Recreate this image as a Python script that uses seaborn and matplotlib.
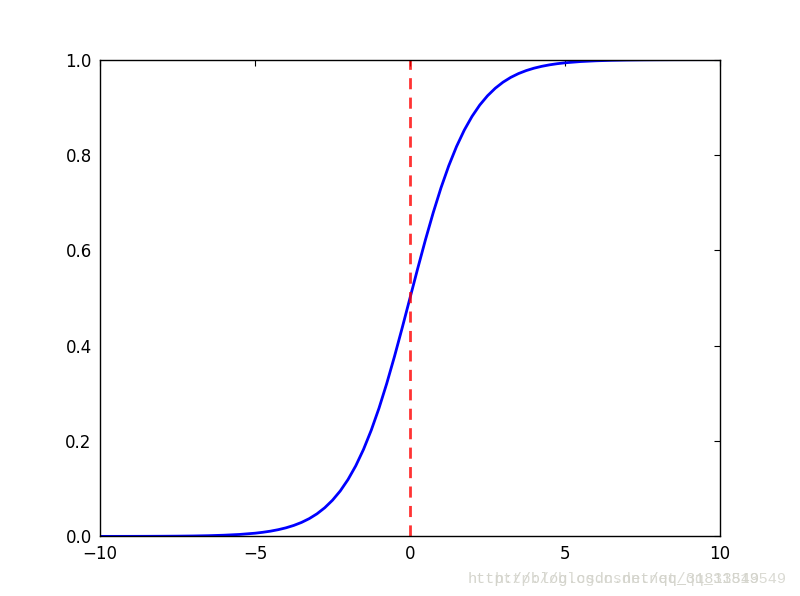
import numpy as np
import pandas as pd
import matplotlib
matplotlib.use("Agg")
import matplotlib.pyplot as plt
import seaborn as sns

# values (denser near the middle where it bends)
x_vals = [-10.0, -9.5, -9.0, -8.5, -8.0, -7.5, -7.0, -6.5, -6.0, -5.5,
          -5.0, -4.75, -4.5, -4.25, -4.0, -3.75, -3.5, -3.25, -3.0, -2.75,
          -2.5, -2.25, -2.0, -1.75, -1.5, -1.25, -1.0, -0.75, -0.5, -0.25,
          0.0, 0.25, 0.5, 0.75, 1.0, 1.25, 1.5, 1.75, 2.0, 2.25,
          2.5, 2.75, 3.0, 3.25, 3.5, 3.75, 4.0, 4.25, 4.5, 4.75,
          5.0, 5.5, 6.0, 6.5, 7.0, 7.5, 8.0, 8.5, 9.0, 9.5, 10.0]
y_vals = [0.00005, 0.00007, 0.00012, 0.0002, 0.00034, 0.00055, 0.0009, 0.0015, 0.0025, 0.0041,
          0.0067, 0.0086, 0.011, 0.0141, 0.018, 0.023, 0.0293, 0.0373, 0.0474, 0.0601,
          0.0759, 0.0953, 0.1192, 0.148, 0.1824, 0.2227, 0.2689, 0.3208, 0.3775, 0.4378,
          0.5, 0.5622, 0.6225, 0.6792, 0.7311, 0.7773, 0.8176, 0.852, 0.8808, 0.9047,
          0.9241, 0.9399, 0.9526, 0.9627, 0.9707, 0.977, 0.982, 0.9859, 0.989, 0.9914,
          0.9933, 0.9959, 0.9975, 0.9985, 0.9991, 0.99945, 0.99966, 0.9998, 0.99988, 0.99993, 0.99995]
vline_x = 0
x_ticks = [-10, -5, 0, 5, 10]
y_ticks = [0.0, 0.2, 0.4, 0.6, 0.8, 1.0]
watermark = "http://blog.csdn.net/qq_31813549"

df = pd.DataFrame({"x": x_vals, "y": y_vals})

sns.set_style("white")
plt.rcParams["font.family"] = ["DejaVu Sans"]

fig = plt.figure(figsize=(8, 5.96), dpi=100)
ax = fig.add_axes([0.125, 0.1, 0.775, 0.8])

sns.lineplot(data=df, x="x", y="y", color="blue", linewidth=2, ax=ax)
ax.axvline(vline_x, color="red", linestyle="--", linewidth=2, alpha=0.8,
           dashes=(4, 3))

ax.set_xlim(-10, 10)
ax.set_ylim(0, 1)
ax.set_xticks(x_ticks)
ax.set_yticks(y_ticks)
ax.set_xticklabels([str(t).replace("-", "\u2212") for t in x_ticks])
ax.set_yticklabels([f"{t:.1f}" for t in y_ticks])
ax.set_xlabel("")
ax.set_ylabel("")
ax.tick_params(direction="in", top=True, right=True, length=4, width=0.8,
               labelsize=12, colors="black", pad=6)
for s in ax.spines.values():
    s.set_color("black")
    s.set_linewidth(1)

# ghosted double watermark
fig.text(468 / 800, 0.022, watermark, color="#d4d4cc", fontsize=11,
         family="Liberation Mono")
fig.text(495 / 800, 0.022, watermark, color="#d4d4cc", fontsize=11,
         family="Liberation Mono", alpha=0.85)

fig.savefig("out.png", dpi=100)
